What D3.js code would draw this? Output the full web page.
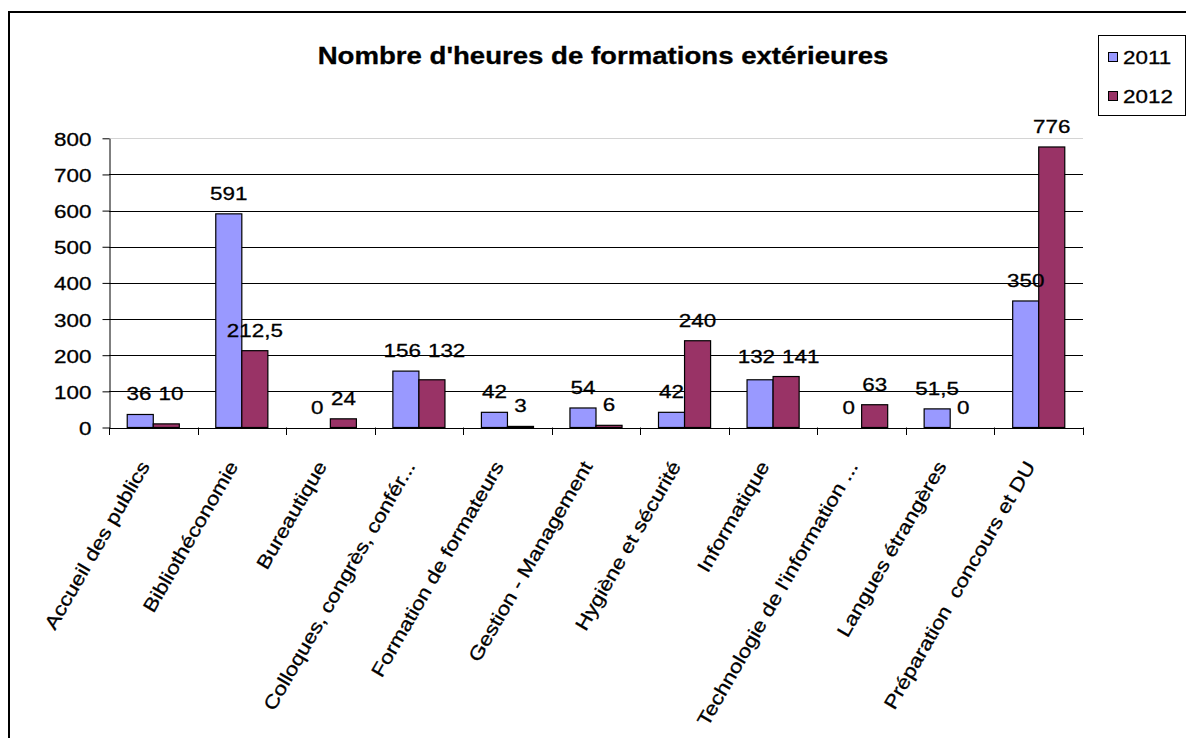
<!DOCTYPE html>
<html>
<head>
<meta charset="utf-8">
<script src="https://cdn.jsdelivr.net/npm/d3@7"></script>
<style>
  html, body { margin: 0; padding: 0; background: #fff; }
  svg { display: block; font-family: "Liberation Sans", Arial, sans-serif; }
  text { white-space: pre; stroke: #000; stroke-width: 0.3px; fill: #000; }
</style>
</head>
<body>
<svg id="chart" width="1186" height="738"></svg>
<script>
const title = "Nombre d'heures de formations extérieures";
const categories = [
  "Accueil des publics",
  "Bibliothéconomie",
  "Bureautique",
  "Colloques, congrès, confér...",
  "Formation de formateurs",
  "Gestion - Management",
  "Hygiène et sécurité",
  "Informatique",
  "Technologie de l'information ...",
  "Langues étrangères",
  "Préparation  concours et DU"
];
const seriesNames = ["2011", "2012"];
const values2011 = [36, 591, 0, 156, 42, 54, 42, 132, 0, 51.5, 350];
const values2012 = [10, 212.5, 24, 132, 3, 6, 240, 141, 63, 0, 776];
const yTicks = [0, 100, 200, 300, 400, 500, 600, 700, 800];
const colors = ["#9999FF", "#993366"];

const svg = d3.select("#chart");
const SX = 1.18; // glyph width stretch seen in the reference
const FS = 19;

const plot = { left: 109, right: 1083, top: 138.3, bottom: 427.5 };

const x = d3.scaleBand().domain(categories).range([plot.left, plot.right]).padding(0);
const x1 = d3.scaleBand().domain(seriesNames).range([0, x.bandwidth()]).paddingInner(0).paddingOuter(0.70);
const y = d3.scaleLinear().domain([0, 800]).range([plot.bottom, plot.top]);
const color = d3.scaleOrdinal().domain(seriesNames).range(colors);
const fr = d3.formatLocale({ decimal: ",", thousands: " ", grouping: [3], currency: ["", " €"] });
const fmt = v => fr.format(",")(v);

// outer border (left & top visible)
svg.append("rect").attr("x", 9).attr("y", 12).attr("width", 1300).attr("height", 900)
  .attr("fill", "none").attr("stroke", "#000").attr("stroke-width", 2);

// title
svg.append("text")
  .attr("transform", `translate(603,64) scale(1.2,1)`)
  .attr("text-anchor", "middle")
  .attr("font-weight", "bold").attr("font-size", 23)
  .text(title);

// gridlines
svg.append("g").selectAll("line").data(yTicks.filter(t => t > 0)).join("line")
  .attr("x1", plot.left).attr("x2", plot.right)
  .attr("y1", d => Math.round(y(d)) + 0.5).attr("y2", d => Math.round(y(d)) + 0.5)
  .attr("stroke", d => d === 800 ? "#d4d4d4" : "#000").attr("stroke-width", 1);

// y axis
const yAxis = svg.append("g").attr("transform", `translate(${plot.left + 0.5},0)`)
  .call(d3.axisLeft(y).tickValues(yTicks).tickSize(7).tickSizeOuter(0).tickFormat(fmt));
yAxis.select(".domain").attr("stroke", "#000");
yAxis.selectAll(".tick line").attr("stroke", "#000");
yAxis.selectAll(".tick text")
  .attr("x", null).attr("dy", null)
  .attr("transform", `translate(-18,7) scale(${SX},1)`)
  .attr("font-size", FS).attr("font-family", "Liberation Sans, Arial, sans-serif");

// bars
const rows = categories.map((c, i) => ({ cat: c, vals: [
  { s: "2011", v: values2011[i] }, { s: "2012", v: values2012[i] }] }));
const groups = svg.append("g").selectAll("g").data(rows).join("g")
  .attr("transform", d => `translate(${x(d.cat)},0)`);
groups.selectAll("rect").data(d => d.vals).join("rect")
  .attr("x", d => x1(d.s)).attr("width", x1.bandwidth())
  .attr("y", d => y(d.v)).attr("height", d => plot.bottom - y(d.v))
  .attr("fill", d => color(d.s)).attr("stroke", "#000").attr("stroke-width", 1.2);

// data labels with simple collision avoidance within a group
const GAP = 14;
groups.each(function(d) {
  const g = d3.select(this);
  const labs = d.vals.map(v => {
    const t = g.append("text").attr("text-anchor", "middle").attr("font-size", FS).text(fmt(v.v));
    const w = t.node().getComputedTextLength() * SX;
    return { t, w, cx: x1(v.s) + x1.bandwidth() / 2, by: y(v.v) - GAP };
  });
  const [a, b] = labs;
  if (Math.abs(a.by - b.by) < 18) {
    const need = (a.w + b.w) / 2 + 7;
    const dist = b.cx - a.cx;
    if (dist < need) {
      const extra = need - dist;
      a.cx -= extra * 0.2; b.cx += extra * 0.8;
      const yy = Math.min(a.by, b.by);
      a.by = yy; b.by = yy;
    }
  }
  labs.forEach(l => l.t.attr("transform", `translate(${l.cx},${l.by}) scale(${SX},1)`));
});

// x axis
const xAxis = svg.append("g").attr("transform", `translate(0,${plot.bottom + 0.5})`)
  .call(d3.axisBottom(x).tickSize(0).tickSizeOuter(0));
xAxis.select(".domain").attr("stroke", "#000");
xAxis.selectAll(".tick text")
  .attr("y", null).attr("dy", null)
  .attr("text-anchor", "end")
  .attr("transform", `translate(-3,38) rotate(-60) scale(${SX},1)`)
  .attr("font-size", FS).attr("font-family", "Liberation Sans, Arial, sans-serif");
// category boundary ticks
const bounds = categories.map(c => x(c)).concat([plot.right]);
svg.append("g").selectAll("line").data(bounds).join("line")
  .attr("x1", d => Math.round(d) + 0.5).attr("x2", d => Math.round(d) + 0.5)
  .attr("y1", plot.bottom).attr("y2", plot.bottom + 7.5)
  .attr("stroke", "#000");

// legend
const lg = svg.append("g");
lg.append("rect").attr("x", 1098.5).attr("y", 35.5).attr("width", 87).attr("height", 80)
  .attr("fill", "#fff").attr("stroke", "#000");
seriesNames.forEach((s, i) => {
  const cy = 57 + i * 39;
  lg.append("rect").attr("x", 1108.5).attr("y", cy - 4.5).attr("width", 9).attr("height", 9)
    .attr("fill", color(s)).attr("stroke", "#000");
  lg.append("text").attr("transform", `translate(1123,${cy + 7}) scale(${SX},1)`)
    .attr("font-size", FS).text(s);
});
</script>
</body>
</html>
